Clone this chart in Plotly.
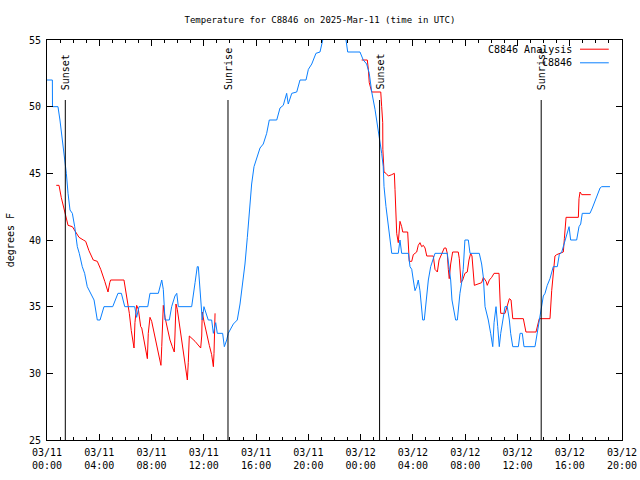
import pandas as pd
import plotly.graph_objects as go

BASE = pd.Timestamp("2025-03-11 00:00")

# Observed station series (hours since 03/11 00:00 UTC, degrees F)
obs_hours = [0.00, 0.41, 0.42, 0.84, 0.99, 1.17, 1.35, 1.48, 1.61, 1.76, 1.94, 2.12, 2.32, 2.47, 2.70,
             2.88, 3.08, 3.34, 3.60, 3.85, 4.06, 4.36, 5.03, 5.43, 5.69, 5.95, 6.71, 6.86, 7.04, 7.71,
             7.88, 8.52, 8.78, 8.90, 9.03, 9.36, 9.54, 9.79, 9.93, 10.05, 11.07, 11.33, 11.50, 11.58,
             11.76, 11.88, 12.01, 12.34, 12.60, 12.73, 12.91, 13.03, 13.44, 13.57, 13.75, 13.87, 14.26,
             14.56, 14.77, 14.98, 15.15, 15.33, 15.48, 15.66, 15.84, 16.05, 16.30, 16.55, 16.81, 17.01,
             17.58, 17.83, 18.08, 18.34, 18.46, 18.73, 19.11, 19.36, 19.82, 20.00, 20.26, 20.58, 20.89,
             21.10, 21.50, 22.40, 22.88, 23.01, 23.95, 24.20, 24.46, 24.66, 24.85, 25.10, 25.27, 25.43,
             25.61, 25.73, 25.79, 25.94, 26.12, 26.25, 26.38, 26.88, 27.01, 27.14, 27.65, 27.78, 27.91,
             28.03, 28.16, 28.29, 28.41, 28.54, 28.67, 28.75, 28.87, 29.00, 29.18, 29.36, 29.51, 29.69,
             30.63, 30.78, 30.89, 30.99, 31.15, 31.27, 31.40, 31.50, 31.60, 31.73, 31.85, 31.98, 32.24,
             32.37, 33.08, 33.26, 33.39, 33.52, 33.77, 33.95, 34.11, 34.21, 34.36, 34.49, 34.61, 34.72,
             34.87, 35.05, 35.22, 35.38, 35.48, 35.64, 36.07, 36.20, 36.37, 36.50, 37.34, 37.52, 37.67,
             37.83, 37.98, 38.11, 38.28, 38.49, 38.70, 38.74, 39.05, 39.20, 39.39, 39.51, 39.64, 39.81,
             39.95, 40.07, 40.53, 40.71, 40.84, 40.96, 41.55, 41.73, 41.93, 42.14, 42.32, 42.45, 43.08]
obs_temp = [52, 52, 50, 50, 49, 47.5, 46.25, 45, 43.5, 42.25, 42, 41, 39.5, 39, 38,
            37.5, 36.5, 36, 35.5, 34, 34, 35, 35, 36, 36, 35, 35, 34.2, 35, 35,
            36, 36, 37, 36.3, 34, 34, 35, 35.8, 36, 35, 35, 36.8, 38, 38,
            35.5, 34, 35, 34, 34, 33, 33.8, 33, 33, 32, 32.5, 33, 33.7,
            34, 35.2, 36.8, 38.2, 40.2, 42.2, 44.2, 45.5, 46.2, 46.9, 47.2, 48, 49,
            49, 49.9, 50.1, 51, 50.2, 51, 51.1, 52, 52, 52.8, 53.2, 54, 54.1,
            55, 56, 56, 55, 54.1, 54.1, 53.5, 53.2, 52.5, 51.1, 49.8, 48.8, 47.8,
            46.5, 45.5, 44, 42.5, 41, 40, 39, 39, 40, 39, 39, 38, 37.8,
            37, 36.2, 36.5, 37, 36.2, 34.8, 34, 34, 35.2, 37, 38, 38.5, 39,
            39, 38, 37, 35.5, 34.5, 34, 34, 35.2, 36, 36.8, 37.8, 40, 40,
            39, 39, 38.2, 37.2, 35, 34, 33, 32, 33.8, 35, 33.5, 32, 33,
            34, 35, 35, 34, 33, 32, 32, 33, 33, 32, 32, 33, 34,
            35, 35.8, 36, 36.6, 37.1, 37.8, 38, 38, 38.9, 39.1, 39.5, 40, 40.6,
            41, 40, 40, 41, 41.2, 42, 42, 42.4, 42.9, 43.4, 43.9, 44, 44]

# Analysis series, first segment (03/11 night)
ana1_hours = [0.71, 0.92, 1.09, 1.25, 1.43, 1.61, 1.94, 2.20, 2.45, 2.78, 2.96, 3.21, 3.54, 3.85,
              4.11, 4.42, 4.67, 4.80, 4.87, 5.89, 6.02, 6.14, 6.30, 6.45, 6.66, 6.73, 6.86, 6.99,
              7.17, 7.25, 7.42, 7.63, 7.68, 7.75, 7.88, 8.01, 8.19, 8.39, 8.59, 8.72, 8.78, 8.85,
              8.90, 9.03, 9.21, 9.41, 9.59, 9.74, 9.79, 9.87, 9.97, 10.12, 10.31, 10.48, 10.64,
              10.74, 10.81, 10.89, 11.33, 11.76, 11.84, 11.88, 12.01, 12.22, 12.42, 12.60, 12.73,
              12.78, 12.86]
ana1_temp = [44.1, 44.1, 43.2, 42.5, 41.8, 41.1, 41, 40.6, 40.2, 40, 39.9, 39.2, 38.5, 38.4,
             37.8, 36.9, 36.1, 36.8, 37, 37, 36.2, 35.5, 34.5, 33.2, 31.9, 33.8, 35.1, 34.8,
             33.5, 33.4, 32.5, 31.5, 31.1, 33, 34.2, 33.9, 33.1, 32.2, 31.4, 30.6, 32, 33.5,
             35.1, 34.2, 33.4, 32.5, 32, 31.6, 32.8, 35.2, 34.8, 33.8, 32.6, 31.5, 30.1,
             29.5, 30.8, 32.8, 32.4, 31.9, 32.8, 34.6, 33.9, 32.9, 32.1, 31.4, 30.5,
             31.5, 34.5]

# Analysis series, second segment (03/12)
ana2_hours = [24.08, 24.51, 24.59, 24.66, 24.85, 25.54, 25.61, 25.69, 25.70, 25.73, 25.79, 25.94,
              26.12, 26.38, 26.58, 26.63, 26.71, 26.76, 26.88, 27.01, 27.14, 27.22, 27.60, 27.65,
              27.72, 27.91, 28.03, 28.29, 28.41, 28.54, 28.67, 28.80, 28.93, 29.06, 29.56, 29.69,
              29.87, 30.00, 30.20, 30.40, 30.53, 30.63, 30.71, 30.78, 30.89, 31.04, 31.47, 31.55,
              31.68, 31.81, 31.98, 32.16, 32.29, 32.42, 32.52, 32.62, 32.70, 33.26, 33.39, 33.60,
              33.69, 33.85, 34.03, 34.21, 34.59, 34.67, 34.72, 35.05, 35.22, 35.38, 35.51, 35.64,
              36.45, 36.58, 36.65, 37.42, 37.52, 37.67, 37.85, 38.49, 38.62, 38.74, 38.87, 39.00,
              39.20, 39.51, 39.59, 39.72, 40.66, 40.71, 40.79, 40.92, 41.61]
ana2_temp = [53.5, 53.5, 52.8, 51.8, 51.1, 51.1, 50, 48.8, 46.8, 46.4, 45.1, 45,
             44.8, 44.9, 45, 43.8, 41.8, 40.5, 39.8, 41.4, 41, 40.6, 40.6, 39.5,
             38.4, 38.4, 38.9, 39.1, 39.6, 39.8, 39.5, 39.6, 39.4, 38.8, 38.8, 37.8,
             37.6, 38.5, 39, 39.4, 39.4, 39, 37.8, 37.1, 38.2, 39.1, 39.1, 38.6,
             36.8, 37, 37.5, 37.6, 38.5, 39, 38.8, 37.6, 36.6, 36.8, 37.2, 36.9,
             36.6, 37, 37.2, 37.5, 37.5, 35.5, 34.5, 34.5, 35, 35.6, 35.5, 34.1,
             34.1, 33.6, 33.1, 33.1, 33.6, 34.1, 34.1, 34.1, 36.2, 37.8, 38.8, 38.9,
             39, 39.1, 40.1, 41.7, 41.7, 43.1, 43.6, 43.4, 43.4]

sun_events = ["Sunset", "Sunrise", "Sunset", "Sunrise"]
sun_times = ["2025-03-11 01:24", "2025-03-11 13:51", "2025-03-12 01:27", "2025-03-12 13:49"]

tick_vals = ["2025-03-11 00:00", "2025-03-11 04:00", "2025-03-11 08:00", "2025-03-11 12:00",
             "2025-03-11 16:00", "2025-03-11 20:00", "2025-03-12 00:00", "2025-03-12 04:00",
             "2025-03-12 08:00", "2025-03-12 12:00", "2025-03-12 16:00", "2025-03-12 20:00"]
tick_text = ["03/11<br>00:00", "03/11<br>04:00", "03/11<br>08:00", "03/11<br>12:00",
             "03/11<br>16:00", "03/11<br>20:00", "03/12<br>00:00", "03/12<br>04:00",
             "03/12<br>08:00", "03/12<br>12:00", "03/12<br>16:00", "03/12<br>20:00"]


def to_time(hours):
    return BASE + pd.to_timedelta(hours, unit="h")


RED = "#ff0000"
BLUE = "#0a80ff"
FONT = "DejaVu Sans Mono"

fig = go.Figure()
fig.add_trace(go.Scatter(x=to_time(ana1_hours), y=ana1_temp, mode="lines", name="C8846 Analysis",
                         line=dict(color=RED, width=1), showlegend=False))
fig.add_trace(go.Scatter(x=to_time(ana2_hours), y=ana2_temp, mode="lines", name="C8846 Analysis",
                         line=dict(color=RED, width=1), showlegend=False))
fig.add_trace(go.Scatter(x=to_time(obs_hours), y=obs_temp, mode="lines", name="C8846",
                         line=dict(color=BLUE, width=1), showlegend=False))

for name, t in zip(sun_events, sun_times):
    fig.add_shape(type="line", xref="x", yref="y", x0=t, x1=t, y0=25, y1=50.5,
                  line=dict(color="black", width=1))
    fig.add_annotation(x=t, y=51.1, xref="x", yref="y", text=name, textangle=-90,
                       showarrow=False, xanchor="center", yanchor="bottom",
                       font=dict(family=FONT, size=10, color="black"))

# legend drawn gnuplot-style (text then line sample)
legend_items = [("C8846 Analysis", RED, 0.977), ("C8846", BLUE, 0.943)]
for label, col, yp in legend_items:
    fig.add_annotation(x=0.9165, y=yp, xref="paper", yref="paper", text=label, showarrow=False,
                       xanchor="right", yanchor="middle", font=dict(family=FONT, size=10, color="black"))
    fig.add_shape(type="line", xref="paper", yref="paper", x0=0.927, x1=0.977, y0=yp, y1=yp,
                  line=dict(color=col, width=1))

fig.add_annotation(x=-0.064, y=0.5, xref="paper", yref="paper", text="degrees F", textangle=-90,
                   showarrow=False, xanchor="center", yanchor="middle",
                   font=dict(family=FONT, size=10, color="black"))

fig.update_layout(
    width=640, height=480,
    margin=dict(l=47, r=18, t=40, b=40, autoexpand=False),
    paper_bgcolor="white", plot_bgcolor="white",
    font=dict(family=FONT, size=10, color="black"),
    title=dict(text="Temperature for C8846 on 2025-Mar-11 (time in UTC)", x=0.5, xanchor="center",
               y=0.958, yanchor="middle", font=dict(family=FONT, size=9, color="black")),
    showlegend=False,
)
fig.update_xaxes(type="date", range=["2025-03-11 00:00", "2025-03-12 20:00"],
                 tickvals=tick_vals, ticktext=tick_text, ticks="inside", ticklen=6,
                 tickcolor="black", showline=True, linecolor="black", linewidth=1,
                 mirror="ticks", showgrid=False, zeroline=False, automargin=False,
                 ticklabelstandoff=3,
                 minor=dict(dtick=3600000, ticks="inside", ticklen=3, tickcolor="black", showgrid=False),
                 tickfont=dict(family=FONT, size=10))
fig.update_yaxes(range=[25, 55], tickvals=[25, 30, 35, 40, 45, 50, 55], ticks="inside", ticklen=6,
                 tickcolor="black", showline=True, linecolor="black", linewidth=1, mirror="ticks",
                 showgrid=False, zeroline=False, automargin=False, ticklabelstandoff=3,
                 tickfont=dict(family=FONT, size=10))

fig.write_html("out.html", config={"displayModeBar": False},
               post_script="document.body.style.margin='0';")
